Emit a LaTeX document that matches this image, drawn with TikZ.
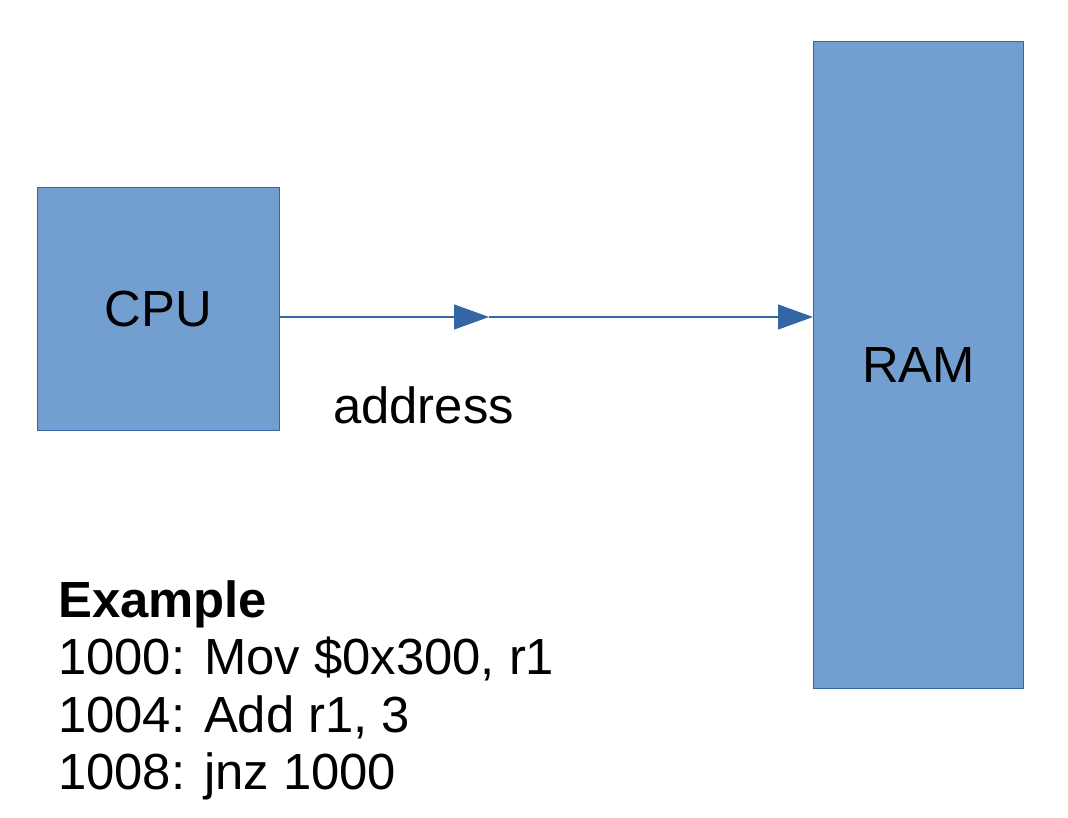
\documentclass[tikz,border=0pt]{standalone}
\usepackage{fontspec}
\setmainfont{Liberation Sans}
\usetikzlibrary{arrows.meta}
\definecolor{boxfill}{HTML}{729FCF}
\definecolor{boxline}{HTML}{3465A4}
\tikzset{
  unit/.style = {draw=boxline, fill=boxfill, line width=1pt, inner sep=0pt, anchor=north west},
  big/.style = {font=\fontsize{50.8}{57.5}\selectfont},
  bus/.style = {boxline, line width=1.2pt, -{Triangle[length=35pt, width=25pt]}}
}
\begin{document}
\begin{tikzpicture}[x=1pt, y=-1pt]
        \useasboundingbox (0,0) rectangle (1068,818);
        \node[unit, big, minimum width=242pt, minimum height=243pt] (cpu) at (37,187) {CPU};
        \node[unit, big, minimum width=210pt, minimum height=647pt] (ram) at (813,41) {RAM};
        \coordinate (busy) at (0,317);
        \coordinate (mid) at (489,317);
        \draw[bus] (cpu.east |- busy) -- (mid);
        \draw[bus] (mid) -- (ram.west |- busy);
        \node[big, anchor=base west, inner sep=0pt] (addr) at (333,423) {address};
        \node[big, anchor=base west, inner sep=0pt] (ex0) at (58,617) {\bfseries Example};
        \node[big, anchor=base west, inner sep=0pt] (ex1) at (58,674.5) {1000: Mov \$0x300, r1};
        \node[big, anchor=base west, inner sep=0pt] (ex2) at (58,732) {1004: Add r1, 3};
        \node[big, anchor=base west, inner sep=0pt] (ex3) at (58,789.5) {1008: jnz 1000};
    \end{tikzpicture}
\end{document}
